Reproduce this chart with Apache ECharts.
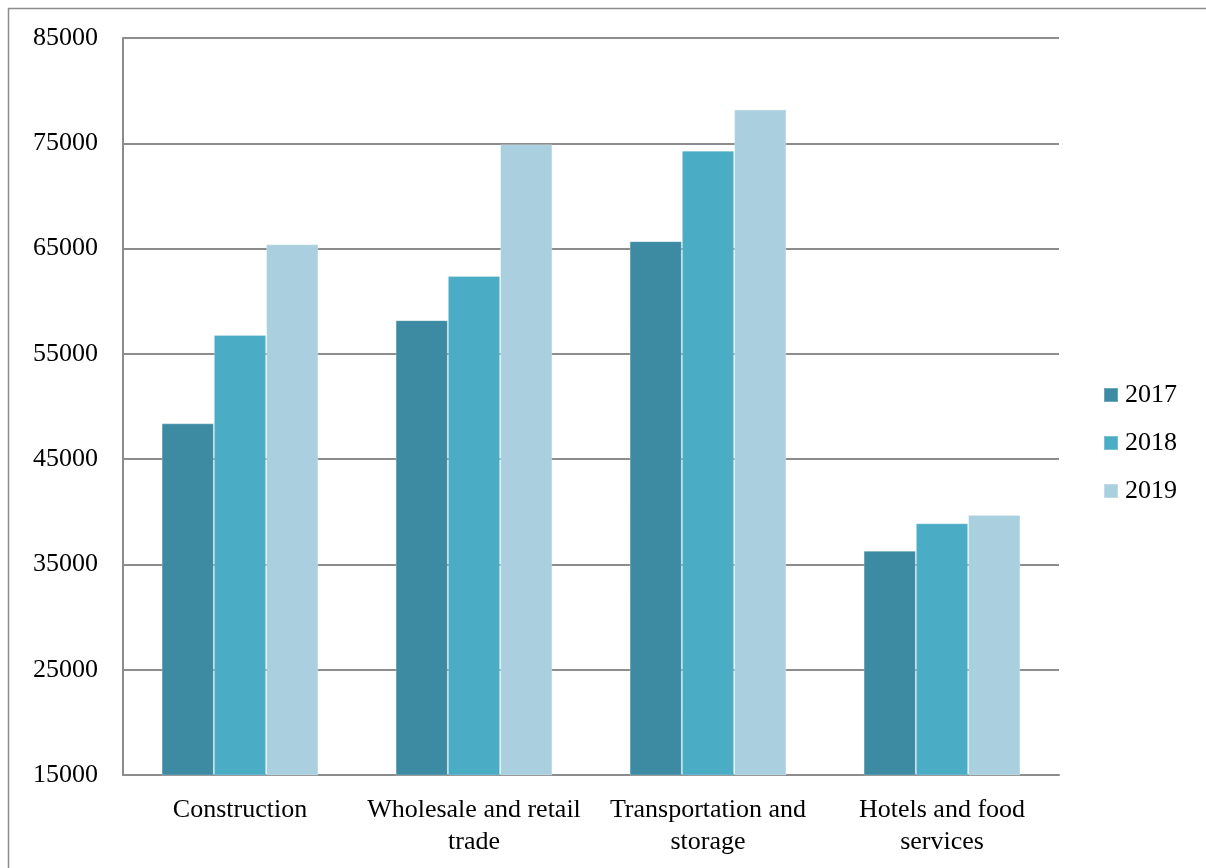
<!DOCTYPE html>
<html>
<head>
<meta charset="utf-8">
<script src="https://cdn.jsdelivr.net/npm/echarts@6/dist/echarts.min.js"></script>
<style>
  html, body { margin: 0; padding: 0; background: #fff; }
  #chart { width: 1206px; height: 868px; }
</style>
</head>
<body>
<div id="chart"></div>
<script>
// Industry categories along the x axis
const categories = [
  'Construction',
  'Wholesale and retail\ntrade',
  'Transportation and\nstorage',
  'Hotels and food\nservices'
];

// Values per year
const years = ['2017', '2018', '2019'];
const values2017 = [48400, 58200, 65700, 36300];
const values2018 = [56800, 62400, 74300, 38900];
const values2019 = [65400, 74900, 78200, 39700];

// Y axis range
const yMin = 15000;
const yMax = 85000;
const yStep = 10000;

const colors = ['#3C8BA2', '#4BACC6', '#AACFDE'];
const font = 'Liberation Serif';
const fontSize = 26;

const chart = echarts.init(document.getElementById('chart'));

const seriesData = [values2017, values2018, values2019];

chart.setOption({
  animation: false,
  backgroundColor: '#fff',
  color: colors,
  graphic: [{
    type: 'rect',
    shape: { x: 8.5, y: 8.5, width: 1400, height: 1000 },
    style: { fill: 'none', stroke: '#8c8c8c', lineWidth: 1.5 },
    silent: true
  }],
  grid: { left: 123, right: 147, top: 38, bottom: 93, containLabel: false },
  legend: {
    orient: 'vertical',
    left: 1098,
    top: 377,
    itemWidth: 14,
    itemHeight: 14,
    itemGap: 22,
    icon: 'rect',
    textStyle: { fontFamily: font, fontSize: fontSize, color: '#000', padding: [0, 0, 0, 2] },
    data: years
  },
  xAxis: {
    type: 'category',
    data: categories,
    axisLine: { lineStyle: { color: '#8c8c8c', width: 2 } },
    axisTick: { show: false },
    axisLabel: {
      fontFamily: font, fontSize: fontSize, color: '#000',
      lineHeight: 32, margin: 19, interval: 0
    }
  },
  yAxis: {
    type: 'value',
    min: yMin,
    max: yMax,
    interval: yStep,
    axisLine: { show: true, lineStyle: { color: '#8c8c8c', width: 2 } },
    axisTick: { show: false },
    splitLine: { lineStyle: { color: '#8c8c8c', width: 2 } },
    axisLabel: {
      fontFamily: font, fontSize: fontSize, color: '#000', margin: 25,
      formatter: v => String(v)
    }
  },
  series: years.map((y, i) => ({
    name: y,
    type: 'bar',
    data: seriesData[i],
    barGap: '0%',
    barCategoryGap: '33%',
    itemStyle: { color: colors[i], borderColor: 'rgba(255,255,255,0.25)', borderWidth: 1 }
  }))
});
</script>
</body>
</html>
